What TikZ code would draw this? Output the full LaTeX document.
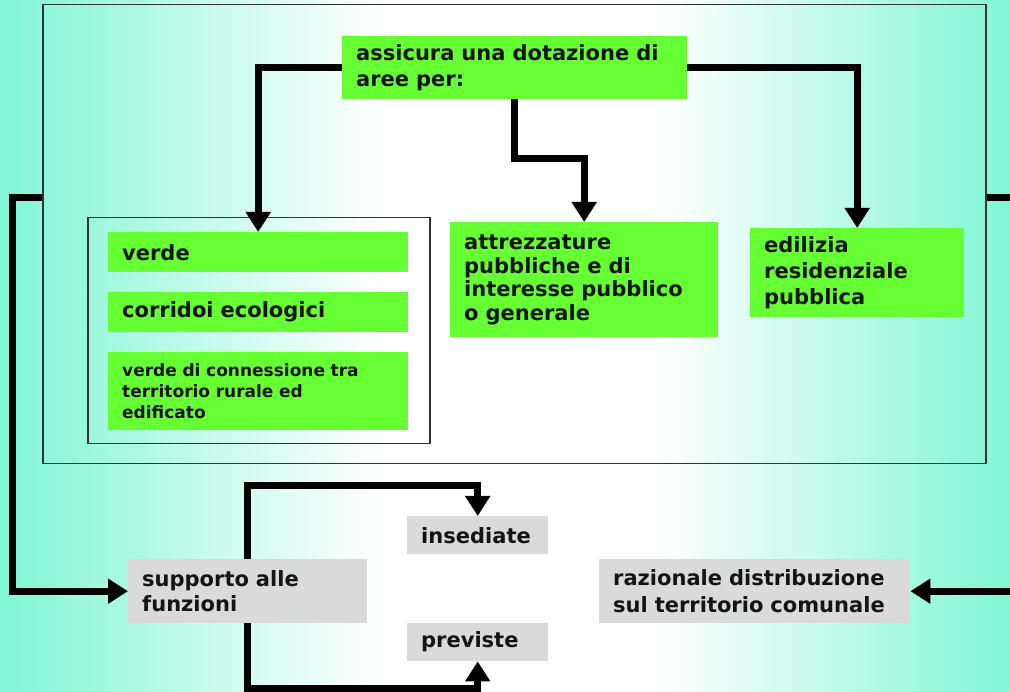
\documentclass[tikz,border=0pt]{standalone}
\usepackage{fontspec}
\setmainfont{DejaVu Sans}
\usetikzlibrary{arrows.meta}
\definecolor{aq}{RGB}{128,246,212}
\definecolor{grn}{RGB}{102,255,51}
\definecolor{gry}{RGB}{218,218,218}
\tikzset{
  box/.style={anchor=north west, inner xsep=14pt, inner ysep=0pt, align=left,
    font=\bfseries\fontsize{21}{26}\selectfont, text=black!92},
  greenbox/.style={box, fill=grn},
  graybox/.style={box, fill=gry},
  bx/.style n args={3}{minimum width=#1pt, text width=#2pt, minimum height=#3pt},
  conn/.style={line width=7pt, line join=miter, -{Triangle[width=24pt,length=20pt]}},
  frame/.style={draw=black!80, line width=1.5pt}
}
\begin{document}
\begin{tikzpicture}[x=1pt,y=-1pt]
\useasboundingbox (0,0) rectangle (1010,692);
\clip (0,0) rectangle (1010,692);
\shade[left color=aq, right color=white] (0,0) rectangle (380,692);
\fill[white] (379,0) rectangle (661,692);
\shade[left color=white, right color=aq] (660,0) rectangle (1010,692);

% outer frame and group frame
\node[frame, anchor=north west, minimum width=943pt, minimum height=459pt, inner sep=0pt] (outer) at (42,4) {};
\node[frame, anchor=north west, minimum width=342pt, minimum height=226pt, inner sep=0pt] (group) at (87,217) {};

% green nodes
\node[greenbox, bx={345}{317}{63}] (top) at (342,36) {assicura una dotazione di\\aree per:};
\node[greenbox, bx={300}{272}{40}] (verde) at (108,232) {verde};
\node[greenbox, bx={300}{272}{40}] (corr) at (108,292) {corridoi ecologici};
\node[greenbox, bx={300}{272}{78}, font=\bfseries\fontsize{17}{21}\selectfont] (conn) at (108,352) {verde di connessione tra\\territorio rurale ed\\edificato};
\node[greenbox, bx={268}{240}{115}, font=\bfseries\fontsize{21}{23.5}\selectfont] (attr) at (450,222) {attrezzature\\pubbliche e di\\interesse pubblico\\o generale};
\node[greenbox, bx={214}{186}{89}] (edil) at (750,228) {edilizia\\residenziale\\pubblica};

% gray nodes
\node[graybox, bx={239}{211}{64}, font=\bfseries\fontsize{21}{25}\selectfont] (supp) at (128,559) {supporto alle\\funzioni};
\node[graybox, bx={141}{113}{38}] (ins) at (407,516) {insediate};
\node[graybox, bx={141}{113}{38}] (prev) at (407,623) {previste};
\node[graybox, bx={311}{283}{64}, font=\bfseries\fontsize{21}{27}\selectfont] (raz) at (599,559) {razionale distribuzione\\sul territorio comunale};

% connectors
\draw[conn] (top.west) -| (verde.north);
\draw[conn] (top.south) -- ++(0,59) -| (attr.north);
\draw[conn] (top.east) -| (edil.north);

\coordinate (L1) at (12,198);
\coordinate (R1) at (1030,198);
\draw[conn] (outer.west |- L1) -- (L1) |- (supp.west);
\draw[conn] (outer.east |- R1) -- (R1) |- (raz.east);

\coordinate (S1) at (247,486);
\coordinate (S2) at (247,688);
\draw[conn] (supp.north -| S1) -- (S1) -| (ins.north);
\draw[conn] (supp.south -| S2) -- (S2) -| (prev.south);
\end{tikzpicture}
\end{document}
